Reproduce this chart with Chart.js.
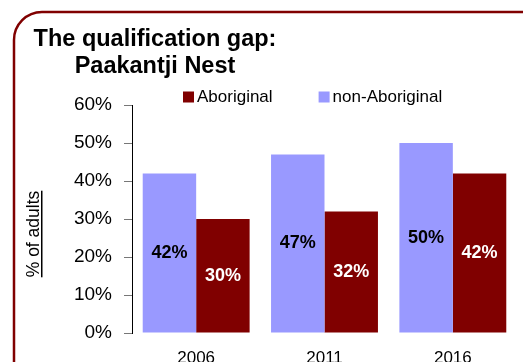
<!DOCTYPE html>
<html>
<head>
<meta charset="utf-8">
<script src="https://cdn.jsdelivr.net/npm/chart.js@4"></script>
<style>
  html, body { margin: 0; padding: 0; background: #fff; }
  #chart { display: block; }
</style>
</head>
<body>
<canvas id="chart" width="523" height="362"></canvas>
<script>
// Census years and share of adults holding a qualification (%)
const years = ['2006', '2011', '2016'];
const nonAboriginal = [42, 47, 50];
const aboriginal = [30, 32, 42];
const titleLines = ['The qualification gap:', 'Paakantji Nest'];
const yTitle = '% of adults';

const FONT = "'Liberation Sans', Arial, sans-serif";
const MAROON = '#800000';
const LAVENDER = '#9999FF';

// rounded frame, two-line title, underlined axis title, legend
const decorations = {
    id: 'decorations',
    beforeDraw(chart) {
        const ctx = chart.ctx;
        ctx.save();
        ctx.strokeStyle = MAROON;
        ctx.lineWidth = 2.5;
        ctx.beginPath();
        ctx.roundRect(14, 12, 540, 380, 28);
        ctx.stroke();
        ctx.restore();
    },
    afterDraw(chart) {
        const ctx = chart.ctx;
        ctx.save();
        ctx.fillStyle = '#000';
        ctx.textAlign = 'center';
        ctx.textBaseline = 'middle';
        ctx.font = 'bold 23.5px ' + FONT;
        ctx.fillText(titleLines[0], 155, 40);
        ctx.fillText(titleLines[1], 155, 67);

        // y axis title, rotated, underlined
        ctx.save();
        ctx.translate(34, 234);
        ctx.rotate(-Math.PI / 2);
        ctx.font = '17.5px ' + FONT;
        const w = ctx.measureText(yTitle).width;
        ctx.fillText(yTitle, 0, 0);
        ctx.fillRect(-w / 2, 7, w, 1.5);
        ctx.restore();

        // legend, Aboriginal first
        ctx.font = '17px ' + FONT;
        ctx.textAlign = 'left';
        let x = 183;
        const y = 97;
        const items = chart.data.datasets.slice().reverse();
        items.forEach(ds => {
            ctx.fillStyle = ds.backgroundColor;
            ctx.fillRect(x, y - 5.5, 11, 11);
            ctx.fillStyle = '#000';
            ctx.fillText(ds.label, x + 14, y);
            x += 14 + ctx.measureText(ds.label).width + 46;
        });
        ctx.restore();
    }
};

// value printed in the middle of each bar
const barValues = {
    id: 'barValues',
    afterDatasetsDraw(chart) {
        const ctx = chart.ctx;
        ctx.save();
        ctx.font = 'bold 18px ' + FONT;
        ctx.textAlign = 'center';
        ctx.textBaseline = 'middle';
        chart.data.datasets.forEach((ds, i) => {
            const meta = chart.getDatasetMeta(i);
            meta.data.forEach((bar, j) => {
                ctx.fillStyle = ds.labelColor;
                ctx.fillText(ds.data[j] + '%', bar.x, (bar.y + bar.base) / 2);
            });
        });
        ctx.restore();
    }
};

new Chart(document.getElementById('chart'), {
    type: 'bar',
    data: {
        labels: years,
        datasets: [
            { label: 'non-Aboriginal', data: nonAboriginal, backgroundColor: LAVENDER, labelColor: '#000' },
            { label: 'Aboriginal', data: aboriginal, backgroundColor: MAROON, labelColor: '#fff' }
        ]
    },
    options: {
        responsive: false,
        animation: false,
        categoryPercentage: 0.833,
        barPercentage: 1,
        layout: { padding: { top: 105, right: 6, bottom: 0, left: 0 } },
        plugins: {
            legend: { display: false },
            title: { display: false },
            tooltip: { enabled: false }
        },
        scales: {
            x: {
                grid: { display: false, drawTicks: false },
                border: { display: false },
                ticks: { color: '#000', font: { family: FONT, size: 17 }, padding: 15 },
                afterFit: s => { s.height = 29; }
            },
            y: {
                min: 0,
                max: 60,
                ticks: {
                    stepSize: 10,
                    color: '#000',
                    padding: 12,
                    font: { family: FONT, size: 19 },
                    callback: v => v + '%'
                },
                grid: { drawOnChartArea: false, drawTicks: true, tickLength: 8, color: '#777' },
                border: { color: '#000', width: 1 },
                afterFit: s => { s.width = 132; }
            }
        }
    },
    plugins: [decorations, barValues]
});
</script>
</body>
</html>
